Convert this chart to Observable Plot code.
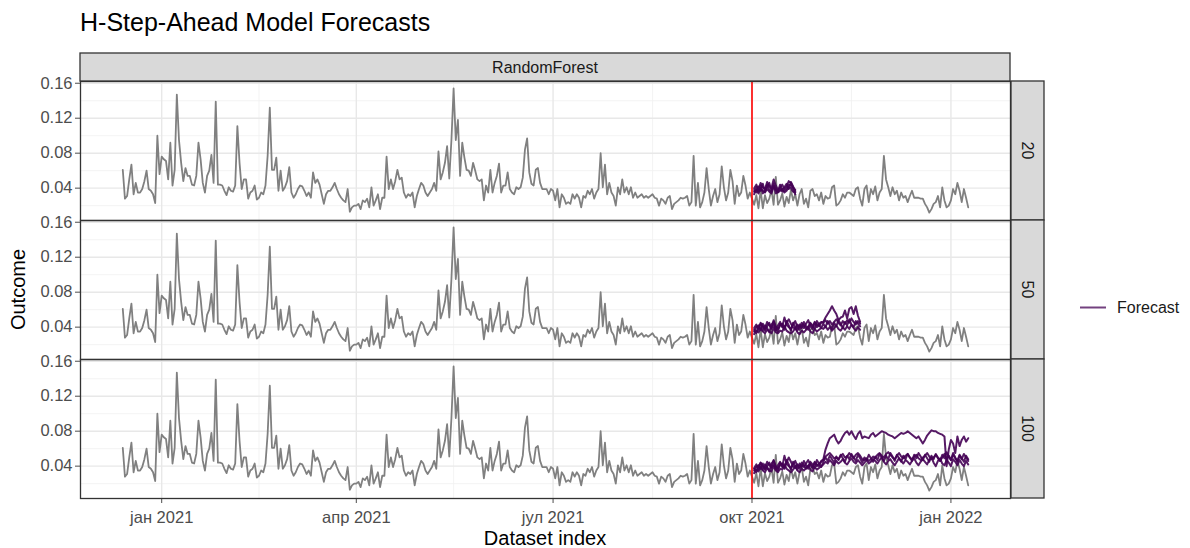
<!DOCTYPE html>
<html><head><meta charset="utf-8">
<script src="https://cdn.jsdelivr.net/npm/d3@7"></script>
<script src="https://cdn.jsdelivr.net/npm/@observablehq/plot@0.6"></script>
<style>
body{margin:0;background:#fff;font-family:"Liberation Sans",Arial,Helvetica,sans-serif;}
#title{height:44px;position:relative;}
#title span{position:absolute;left:80px;top:8px;font-size:25px;color:#000;white-space:nowrap;}
#chart svg{display:block;}
</style></head><body>
<div id="title"><span>H-Step-Ahead Model Forecasts</span></div>
<div id="chart"></div>
<script>
// ---------- data ----------
const START = "2020-12-14";           // first observation (daily series)
const outcome = [
0.061,0.028,0.031,0.050,0.067,0.033,0.046,0.035,0.035,0.039,
0.048,0.060,0.039,0.037,0.033,0.023,0.100,0.056,0.076,0.073,
0.071,0.050,0.092,0.043,0.061,0.147,0.095,0.069,0.048,0.063,
0.054,0.054,0.044,0.043,0.054,0.092,0.073,0.046,0.035,0.054,
0.060,0.078,0.046,0.139,0.044,0.044,0.043,0.037,0.032,0.041,
0.037,0.036,0.043,0.111,0.069,0.039,0.050,0.050,0.028,0.035,
0.037,0.043,0.027,0.029,0.035,0.033,0.043,0.077,0.132,0.061,
0.061,0.075,0.037,0.060,0.037,0.041,0.048,0.064,0.035,0.029,
0.033,0.039,0.043,0.042,0.037,0.031,0.035,0.029,0.058,0.046,
0.050,0.044,0.033,
0.022,0.033,0.037,0.037,0.041,0.046,0.039,0.033,0.029,0.026,
0.024,0.039,0.013,0.018,0.020,0.020,0.022,0.016,0.026,0.024,
0.028,0.018,0.041,0.020,0.026,0.033,0.016,0.029,0.029,0.076,
0.039,0.050,0.039,0.048,0.061,0.050,0.052,0.035,0.029,0.033,
0.031,0.035,0.018,0.031,0.039,0.046,0.043,0.035,0.031,0.035,
0.039,0.046,0.037,0.082,0.050,0.058,0.069,0.088,0.051,0.095,
0.154,0.095,0.118,0.054,0.092,0.075,0.061,0.060,0.054,0.069,
0.060,0.050,0.048,0.050,0.026,0.043,0.035,0.061,0.035,0.046,
0.054,0.068,0.035,0.043,0.043,0.058,0.039,0.035,0.033,0.041,
0.039,0.041,0.052,0.084,0.097,0.058,0.045,0.043,0.061,0.063,
0.046,0.039,0.039,0.039,0.033,
0.039,0.037,0.026,0.039,0.018,0.033,0.029,0.022,0.024,0.022,
0.033,0.028,0.033,0.029,0.018,0.031,0.029,0.037,0.033,0.039,
0.028,0.035,0.039,0.080,0.041,0.067,0.033,0.046,0.035,0.031,
0.020,0.041,0.033,0.050,0.035,0.041,0.033,0.041,0.029,0.035,
0.029,0.031,0.033,0.029,0.031,0.029,0.031,0.033,0.029,0.028,
0.020,0.028,0.026,0.022,0.029,0.031,0.016,0.022,0.024,0.026,
0.029,0.028,0.029,0.031,0.020,0.024,0.077,0.020,0.046,0.018,
0.024,0.035,0.063,0.039,0.020,0.031,0.039,0.024,0.033,0.065,
0.041,0.026,0.035,0.061,0.048,0.022,0.043,0.031,0.035,0.054,
0.043,0.028,0.035,
0.028,0.021,0.032,0.017,0.038,0.017,0.032,0.023,0.028,0.038,
0.021,0.053,0.021,0.026,0.034,0.019,0.030,0.023,0.038,0.026,
0.033,0.020,0.033,0.039,0.022,0.028,0.018,0.037,0.039,0.031,
0.033,0.026,0.035,0.022,0.031,0.028,0.029,0.041,0.043,0.020,
0.022,0.026,0.033,0.029,0.035,0.035,0.033,0.031,0.039,0.041,
0.028,0.020,0.039,0.043,0.024,0.039,0.033,0.042,0.026,0.035,
0.039,0.077,0.050,0.041,0.031,0.041,0.033,0.037,0.026,0.035,
0.029,0.031,0.024,0.031,0.037,0.029,0.029,0.029,0.028,0.028,
0.022,0.018,0.012,0.016,0.022,0.024,0.031,0.018,0.041,0.026,
0.018,0.020,0.026,0.039,0.033,0.046,0.037,0.024,0.039,0.029,0.018
];

const FC_START = "2021-10-02";        // first forecast step
const horizons = ["20", "50", "100"];
const model = "RandomForest";

// forecast runs, horizon 20
const fc20_a = [0.040,0.044,0.038,0.046,0.041,0.039,0.047,0.042,0.040,0.050,0.043,0.038,0.041,0.044,0.039,0.042,0.048,0.046,0.041,0.038];
const fc20_b = [0.036,0.038,0.034,0.040,0.037,0.035,0.039,0.036,0.034,0.041,0.038,0.035,0.037,0.039,0.035,0.037,0.041,0.040,0.036,0.035];
const fc20_c = [0.033,0.041,0.036,0.043,0.034,0.037,0.044,0.038,0.036,0.045,0.034,0.036,0.040,0.036,0.037,0.039,0.044,0.043,0.039,0.033];
const fc20_d = [0.038,0.035,0.042,0.037,0.045,0.036,0.041,0.046,0.037,0.043,0.040,0.036,0.044,0.038,0.041,0.045,0.039,0.047,0.042,0.036];
// horizon 50
const fc50_a = [0.039,0.043,0.037,0.045,0.041,0.038,0.046,0.042,0.039,0.048,0.041,0.038,0.042,0.044,0.039,0.045,0.049,0.044,0.040,0.038,
0.043,0.040,0.045,0.042,0.038,0.041,0.044,0.040,0.046,0.043,0.041,0.045,
0.046,0.051,0.055,0.059,0.064,0.059,0.055,0.048,0.051,0.052,0.059,0.050,0.061,0.063,0.055,0.064,0.053,0.046];
const fc50_b = [0.035,0.040,0.042,0.037,0.044,0.036,0.041,0.045,0.038,0.043,0.036,0.042,0.046,0.040,0.051,0.043,0.040,0.038,0.043,0.047,
0.040,0.037,0.042,0.039,0.044,0.048,0.041,0.038,0.045,0.040,0.044,0.046,0.045,0.048,0.044,0.047,0.043,0.046,0.049,0.045,
0.042,0.047,0.044,0.048,0.045,0.050,0.046,0.043,0.047,0.044];
const fc50_c = [0.032,0.036,0.034,0.038,0.035,0.033,0.037,0.035,0.033,0.039,0.034,0.033,0.036,0.035,0.041,0.036,0.034,0.033,0.035,0.039,
0.034,0.032,0.036,0.034,0.037,0.040,0.035,0.033,0.038,0.035,0.037,0.039,0.038,0.041,0.037,0.040,0.036,0.039,0.042,0.038,
0.036,0.040,0.037,0.041,0.038,0.043,0.039,0.036,0.040,0.037];
const fc50_d = [0.037,0.033,0.040,0.044,0.036,0.042,0.039,0.034,0.043,0.046,0.038,0.035,0.044,0.041,0.037,0.047,0.042,0.036,0.045,0.040,
0.036,0.043,0.039,0.046,0.041,0.037,0.045,0.042,0.038,0.047,0.043,0.039,
0.044,0.040,0.047,0.042,0.038,0.045,0.041,0.048,0.044,0.039,0.046,0.042,0.049,0.043,0.040,0.047,0.044,0.041];
// horizon 100
const fc100_a = [0.038,0.042,0.036,0.044,0.040,0.037,0.045,0.041,0.039,0.047,0.040,0.037,0.041,0.043,0.038,0.044,0.050,0.045,0.040,0.038,
0.042,0.039,0.044,0.041,0.037,0.040,0.043,0.039,0.045,0.042,0.040,0.046,
0.048,0.059,0.066,0.072,0.074,0.076,0.070,0.066,0.069,0.074,0.078,0.080,0.076,0.080,0.075,0.071,0.077,0.080,
0.072,0.074,0.073,0.072,0.076,0.078,0.074,0.076,0.078,0.080,0.079,0.078,0.076,0.075,0.074,0.072,0.074,0.076,
0.078,0.077,0.078,0.080,0.078,0.076,0.074,0.072,0.074,0.070,0.066,0.070,0.075,0.078,0.081,0.080,0.080,0.078,
0.077,0.076,0.074,0.040,0.059,0.070,0.066,0.055,0.074,0.063,0.070,0.074,0.068,0.072];
const fc100_b = [0.035,0.039,0.041,0.037,0.043,0.036,0.040,0.044,0.038,0.042,0.036,0.041,0.045,0.039,0.052,0.043,0.040,0.038,0.042,0.046,
0.040,0.037,0.041,0.039,0.043,0.047,0.041,0.038,0.044,0.040,0.043,0.045,
0.047,0.051,0.053,0.055,0.052,0.049,0.050,0.048,0.052,0.054,0.050,0.051,0.055,0.052,0.049,0.053,0.055,0.052,0.048,0.047,
0.049,0.046,0.048,0.051,0.049,0.053,0.055,0.052,0.050,0.054,0.056,0.053,0.050,0.048,0.052,0.055,0.051,0.049,0.052,0.054,
0.050,0.048,0.051,0.053,0.049,0.047,0.050,0.052,0.055,0.051,0.048,0.050,0.053,0.049,0.046,0.050,0.054,0.048,0.052,0.047,
0.055,0.050,0.046,0.053,0.049,0.045,0.052,0.048];
const fc100_c = [0.032,0.036,0.034,0.039,0.035,0.033,0.038,0.035,0.034,0.040,0.035,0.033,0.037,0.036,0.042,0.037,0.035,0.033,0.036,0.040,
0.035,0.033,0.037,0.035,0.038,0.041,0.036,0.034,0.039,0.036,0.038,0.040,
0.042,0.045,0.043,0.047,0.044,0.041,0.046,0.043,0.045,0.048,0.044,0.042,0.046,0.049,0.045,0.043,0.047,0.044,0.041,0.044,
0.047,0.043,0.045,0.048,0.046,0.043,0.047,0.050,0.045,0.042,0.046,0.048,0.044,0.041,0.045,0.049,0.046,0.043,0.047,0.045,
0.042,0.046,0.049,0.044,0.041,0.045,0.048,0.045,0.042,0.047,0.050,0.044,0.040,0.046,0.049,0.043,0.041,0.047,0.044,0.040,
0.048,0.045,0.041,0.047,0.043,0.040,0.046,0.042];
const fc100_d = [0.037,0.033,0.040,0.044,0.036,0.042,0.039,0.034,0.043,0.046,0.038,0.035,0.044,0.041,0.037,0.047,0.042,0.036,0.045,0.040,
0.036,0.043,0.039,0.046,0.041,0.037,0.045,0.042,0.038,0.047,0.043,0.039,
0.045,0.050,0.046,0.052,0.048,0.044,0.051,0.047,0.053,0.049,0.045,0.052,0.048,0.054,0.050,0.046,0.053,0.049,0.044,0.050,
0.047,0.053,0.049,0.045,0.051,0.047,0.054,0.050,0.046,0.052,0.048,0.055,0.051,0.046,0.053,0.049,0.045,0.052,0.048,0.054,
0.050,0.046,0.053,0.049,0.055,0.051,0.047,0.053,0.049,0.045,0.052,0.048,0.054,0.050,0.046,0.053,0.049,0.056,0.051,0.047,
0.053,0.049,0.045,0.052,0.048,0.054,0.050,0.046];

const CUTOFF = "2021-10-01";
const xTickDates = ["2021-01-01","2021-04-01","2021-07-01","2021-10-01","2022-01-01"];
const xTickLabels = ["јан 2021","апр 2021","јул 2021","окт 2021","јан 2022"];
const xMinorDates = ["2021-02-15","2021-05-16","2021-08-16","2021-11-16"];
const yTicks = [0.04, 0.08, 0.12, 0.16];
const yMinor = [0.02, 0.06, 0.10, 0.14];
const yDomain = [0.003, 0.162];

// ---------- build tables ----------
const DAY = 864e5;
const day = (s, k = 0) => new Date(Date.parse(s) + k * DAY);
const obs = outcome.map((v, i) => ({date: day(START, i), value: v}));
const runs = {
  "20": [fc20_a, fc20_b, fc20_c, fc20_d],
  "50": [fc50_a, fc50_b, fc50_c, fc50_d],
  "100": [fc100_a, fc100_b, fc100_c, fc100_d]
};
const fc = horizons.flatMap(h => runs[h].flatMap((arr, r) =>
  arr.map((v, i) => ({h, run: h + "-" + r, date: day(FC_START, i), value: v}))));

const d0 = obs[0].date, d1 = obs[obs.length - 1].date, span = d1 - d0;
const xDomain = [new Date(+d0 - 0.05 * span), new Date(+d1 + 0.05 * span)];
const labelOf = new Map(xTickDates.map((d, i) => [+day(d), xTickLabels[i]]));

const FONT = "'Liberation Sans', Arial, Helvetica, sans-serif";
const FC_COLOR = "#440154";

const plot = Plot.plot({
  width: 1190, height: 504,
  marginLeft: 80, marginRight: 180, marginTop: 37, marginBottom: 50,
  style: {fontFamily: FONT, fontSize: "16.5px", color: "#4d4d4d", background: "white", overflow: "visible"},
  x: {type: "utc", domain: xDomain, ticks: xTickDates.map(d => day(d)), tickFormat: d => labelOf.get(+d),
      tickSize: 5, tickPadding: 8, label: null},
  y: {domain: yDomain, ticks: yTicks, tickFormat: d3.format(".2f"), tickSize: 5, tickPadding: 3, label: null},
  fy: {domain: horizons, padding: 0, axis: null, label: null},
  marks: [
    Plot.ruleY(yMinor, {stroke: "#f0f0f0", strokeWidth: 0.8}),
    Plot.ruleX(xMinorDates.map(d => day(d)), {stroke: "#f0f0f0", strokeWidth: 0.8}),
    Plot.ruleY(yTicks, {stroke: "#e8e8e8", strokeWidth: 1.4}),
    Plot.ruleX(xTickDates.map(d => day(d)), {stroke: "#e8e8e8", strokeWidth: 1.4}),
    Plot.line(obs, {x: "date", y: "value", stroke: "#808080", strokeWidth: 1.8}),
    Plot.line(fc, {x: "date", y: "value", z: "run", fy: "h", stroke: FC_COLOR, strokeOpacity: 0.9, strokeWidth: 2}),
    Plot.ruleX([day(CUTOFF)], {stroke: "red", strokeWidth: 1.6}),
    Plot.frame({stroke: "#333333", strokeWidth: 1.3})
  ]
});
document.getElementById("chart").appendChild(plot);

// ---------- strips, axis titles, legend ----------
const svg = d3.select(plot);
const xs = plot.scale("x"), fys = plot.scale("fy");
const [px0, px1] = xs.range;
const band = d3.scaleBand().domain(fys.domain).range(fys.range)
  .paddingInner(fys.paddingInner ?? 0).paddingOuter(fys.paddingOuter ?? 0).align(fys.align ?? 0.5);
const pTop = Math.min(...fys.range), pBottom = Math.max(...fys.range);
const g = svg.append("g").attr("font-family", FONT);

const STRIP = 28;
g.append("rect").attr("x", px0).attr("y", pTop - STRIP).attr("width", px1 - px0).attr("height", STRIP)
  .attr("fill", "#d9d9d9").attr("stroke", "#333").attr("stroke-width", 1.3);
g.append("text").attr("x", (px0 + px1) / 2).attr("y", pTop - STRIP / 2).attr("text-anchor", "middle")
  .attr("dominant-baseline", "central").attr("font-size", 16).attr("fill", "#1a1a1a").text(model);

for (const h of horizons) {
  const y0 = band(h), bw = band.bandwidth();
  g.append("rect").attr("x", px1 + 1).attr("y", y0).attr("width", 33).attr("height", bw)
    .attr("fill", "#d9d9d9").attr("stroke", "#333").attr("stroke-width", 1.3);
  g.append("text").attr("transform", `translate(${px1 + 1 + 16.5},${y0 + bw / 2}) rotate(90)`)
    .attr("text-anchor", "middle").attr("dominant-baseline", "central")
    .attr("font-size", 16).attr("fill", "#1a1a1a").text(h);
}

g.append("text").attr("transform", `translate(18,${(pTop + pBottom) / 2}) rotate(-90)`)
  .attr("text-anchor", "middle").attr("dominant-baseline", "central")
  .attr("font-size", 20).attr("fill", "#000").text("Outcome");
g.append("text").attr("x", (px0 + px1) / 2).attr("y", 494).attr("text-anchor", "middle")
  .attr("dominant-baseline", "central").attr("font-size", 20).attr("fill", "#000").text("Dataset index");

const ly = (pTop + pBottom) / 2 + 18;
g.append("line").attr("x1", 1080).attr("x2", 1106).attr("y1", ly).attr("y2", ly)
  .attr("stroke", FC_COLOR).attr("stroke-opacity", 0.75).attr("stroke-width", 2);
g.append("text").attr("x", 1117).attr("y", ly).attr("text-anchor", "start").attr("dominant-baseline", "central")
  .attr("font-size", 16).attr("fill", "#1a1a1a").text("Forecast");
</script>
</body></html>
